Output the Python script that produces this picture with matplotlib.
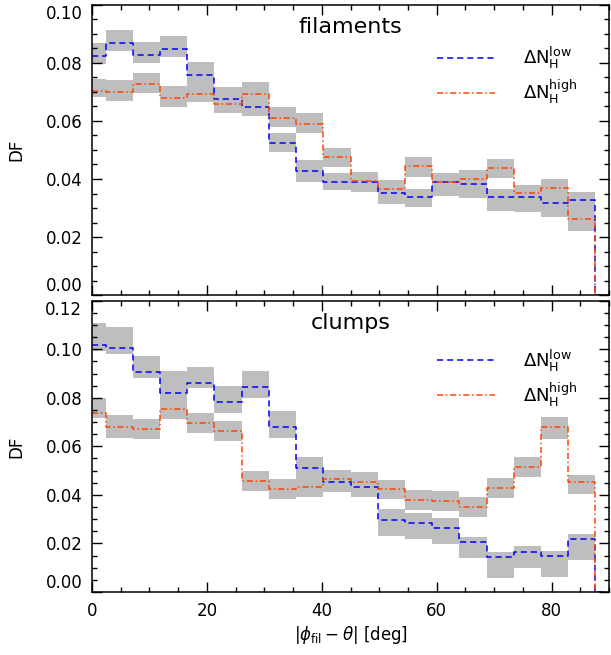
import numpy as np
import matplotlib
matplotlib.use('Agg')
import matplotlib.pyplot as plt
from matplotlib.ticker import MultipleLocator

# bin centres (deg), last point is the closing zero of the histogram
ang = np.linspace(0, 90, 20)

# filaments: DF for low / high column density contrast, with grey band limits
fil_low    = [0.0824, 0.0868, 0.0828, 0.0848, 0.0757, 0.0676, 0.0647, 0.0523, 0.0429, 0.0391,
              0.0390, 0.0351, 0.0337, 0.0390, 0.0383, 0.0339, 0.0339, 0.0318, 0.0328, 0.0]
fil_low_lo = [0.0795, 0.0841, 0.0799, 0.0820, 0.0716, 0.0645, 0.0618, 0.0494, 0.0391, 0.0362,
              0.0354, 0.0314, 0.0302, 0.0341, 0.0333, 0.0291, 0.0287, 0.0268, 0.0290, 0.0]
fil_low_hi = [0.0870, 0.0914, 0.0871, 0.0893, 0.0803, 0.0718, 0.0685, 0.0560, 0.0466, 0.0420,
              0.0425, 0.0385, 0.0364, 0.0422, 0.0420, 0.0366, 0.0375, 0.0355, 0.0354, 0.0]

fil_high    = [0.0705, 0.0701, 0.0726, 0.0680, 0.0693, 0.0659, 0.0693, 0.0609, 0.0589, 0.0477,
               0.0392, 0.0366, 0.0446, 0.0391, 0.0400, 0.0439, 0.0351, 0.0370, 0.0262, 0.0]
fil_high_lo = [0.0684, 0.0670, 0.0695, 0.0649, 0.0664, 0.0629, 0.0665, 0.0578, 0.0557, 0.0443,
               0.0355, 0.0330, 0.0408, 0.0345, 0.0360, 0.0402, 0.0310, 0.0330, 0.0222, 0.0]
fil_high_hi = [0.0744, 0.0741, 0.0767, 0.0721, 0.0735, 0.0700, 0.0734, 0.0647, 0.0629, 0.0506,
               0.0424, 0.0397, 0.0477, 0.0420, 0.0431, 0.0469, 0.0379, 0.0400, 0.0300, 0.0]

# clumps
clu_low    = [0.1018, 0.1004, 0.0908, 0.0821, 0.0860, 0.0781, 0.0843, 0.0681, 0.0509, 0.0455,
              0.0434, 0.0297, 0.0283, 0.0262, 0.0205, 0.0146, 0.0166, 0.0148, 0.0218, 0.0]
clu_low_lo = [0.0994, 0.0980, 0.0883, 0.0798, 0.0839, 0.0739, 0.0801, 0.0636, 0.0470, 0.0420,
              0.0395, 0.0231, 0.0217, 0.0196, 0.0139, 0.0056, 0.0100, 0.0060, 0.0132, 0.0]
clu_low_hi = [0.1107, 0.1093, 0.0972, 0.0910, 0.0926, 0.0849, 0.0910, 0.0746, 0.0555, 0.0503,
              0.0480, 0.0341, 0.0327, 0.0306, 0.0228, 0.0166, 0.0189, 0.0169, 0.0238, 0.0]

clu_high    = [0.0739, 0.0678, 0.0671, 0.0754, 0.0698, 0.0665, 0.0459, 0.0424, 0.0434, 0.0464,
               0.0452, 0.0423, 0.0379, 0.0376, 0.0349, 0.0427, 0.0516, 0.0681, 0.0455, 0.0]
clu_high_lo = [0.0715, 0.0636, 0.0629, 0.0711, 0.0656, 0.0622, 0.0416, 0.0383, 0.0393, 0.0413,
               0.0390, 0.0382, 0.0338, 0.0335, 0.0308, 0.0389, 0.0475, 0.0629, 0.0402, 0.0]
clu_high_hi = [0.0798, 0.0729, 0.0713, 0.0798, 0.0739, 0.0704, 0.0498, 0.0466, 0.0475, 0.0503,
               0.0493, 0.0461, 0.0420, 0.0417, 0.0390, 0.0468, 0.0555, 0.0722, 0.0482, 0.0]

panels = ['filaments', 'clumps']
lab_low = r'$\Delta\mathrm{N}_\mathrm{H}^\mathrm{low}$'
lab_high = r'$\Delta\mathrm{N}_\mathrm{H}^\mathrm{high}$'

c_low = '#0000ff'
c_high = '#ff4500'
c_band = '#bebebe'

plt.rcParams['font.family'] = ['DejaVu Sans']
plt.rcParams['mathtext.fontset'] = 'dejavusans'

fig = plt.figure(figsize=(6.11, 6.55), dpi=100)
ax1 = fig.add_axes([0.1506, 0.5496, 0.8462, 0.4428])
ax2 = fig.add_axes([0.1506, 0.0962, 0.8462, 0.4447])

sets = [(ax1, fil_low, fil_low_lo, fil_low_hi, fil_high, fil_high_lo, fil_high_hi, 0.10),
        (ax2, clu_low, clu_low_lo, clu_low_hi, clu_high, clu_high_lo, clu_high_hi, 0.12)]

for i, (ax, lo, lo_a, lo_b, hi, hi_a, hi_b, ytop) in enumerate(sets):
    ax.fill_between(ang, lo_a, lo_b, step='mid', color=c_band, lw=0)
    ax.fill_between(ang, hi_a, hi_b, step='mid', color=c_band, lw=0)
    ax.step(ang, lo, where='mid', color=c_low, lw=1.1, dashes=(4, 2.6), label=lab_low)
    ax.step(ang, hi, where='mid', color=c_high, lw=1.1, dashes=(4, 1.8, 1, 1.8), label=lab_high)

    ax.set_xlim(0, 90)
    ax.set_ylim(0, ytop)
    ax.xaxis.set_major_locator(MultipleLocator(20))
    ax.xaxis.set_minor_locator(MultipleLocator(5))
    ax.yaxis.set_major_locator(MultipleLocator(0.02))
    ax.yaxis.set_minor_locator(MultipleLocator(0.005))
    ax.yaxis.set_major_formatter(matplotlib.ticker.FormatStrFormatter('%.2f'))
    ax.tick_params(which='both', direction='in', top=True, right=True, labelsize=12, pad=7)
    ax.tick_params(which='major', length=7, width=1)
    ax.tick_params(which='minor', length=3.5, width=1)
    for s in ax.spines.values():
        s.set_linewidth(1.1)

    ax.set_ylabel('DF', fontsize=12)
    ax.yaxis.set_label_coords(-0.128, 0.5)
    ax.text(0.5, 0.925, panels[i], transform=ax.transAxes, ha='center', va='center', fontsize=16)
    ax.legend(loc='upper left', bbox_to_anchor=(0.667, 0.862 if i == 0 else 0.84),
              frameon=False, fontsize=13, handlelength=3.2, handletextpad=1.55,
              labelspacing=0.38, borderaxespad=0, borderpad=0)

ax1.tick_params(labelbottom=False)
ax2.set_xlabel(r'$|\phi_\mathrm{fil}-\theta|$ [deg]', fontsize=12)
ax2.xaxis.set_label_coords(0.5, -0.11)

# end labels of the y axes sit inside the panel, like in the original plot
fig.canvas.draw()
for ax in (ax1, ax2):
    yt = ax.yaxis.get_major_ticks()
    lim = ax.get_ylim()
    for t, v in zip(yt, ax.get_yticks()):
        if abs(v - lim[0]) < 1e-9:
            t.label1.set_va('bottom')
        elif abs(v - lim[1]) < 1e-9:
            t.label1.set_va('top')

plt.savefig('out.png', dpi=100)
